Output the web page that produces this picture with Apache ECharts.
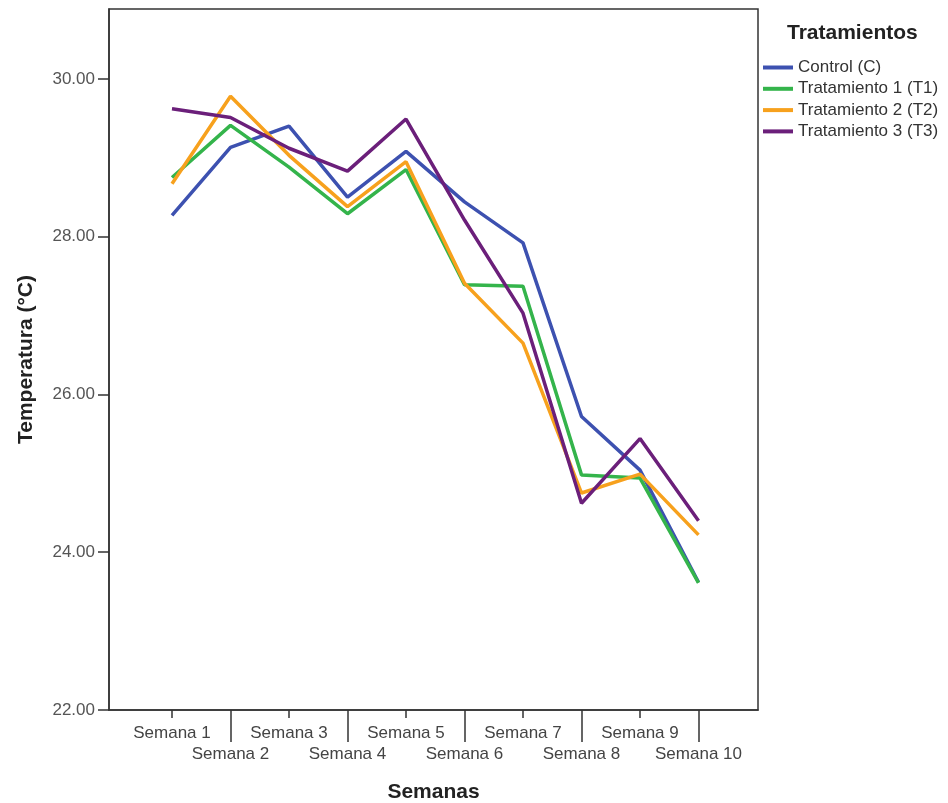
<!DOCTYPE html>
<html>
<head>
<meta charset="utf-8">
<script src="https://cdn.jsdelivr.net/npm/echarts@6/dist/echarts.min.js"></script>
<style>
html,body{margin:0;padding:0;background:#fff;}
#chart{width:948px;height:803px;}
</style>
</head>
<body>
<div id="chart"></div>
<script>
const categories = ['Semana 1','Semana 2','Semana 3','Semana 4','Semana 5','Semana 6','Semana 7','Semana 8','Semana 9','Semana 10'];
const seriesNames = ['Control (C)','Tratamiento 1 (T1)','Tratamiento 2 (T2)','Tratamiento 3 (T3)'];
const control = [28.27, 29.13, 29.40, 28.50, 29.08, 28.44, 27.92, 25.72, 25.04, 23.62];
const t1      = [28.75, 29.41, 28.88, 28.29, 28.85, 27.39, 27.37, 24.98, 24.94, 23.61];
const t2      = [28.67, 29.78, 29.03, 28.38, 28.95, 27.41, 26.65, 24.75, 24.99, 24.22];
const t3      = [29.62, 29.51, 29.12, 28.83, 29.49, 28.21, 27.03, 24.62, 25.44, 24.40];
const yTicks = [22, 24, 26, 28, 30];
const colors = ['#3D51B0', '#34B44B', '#F7A11D', '#6B1F7A'];

const allValues = [control, t1, t2, t3];
const oddPos = [1, 3, 5, 7, 9];
const evenPos = [2, 4, 6, 8, 10];
const labelFont = 'Liberation Sans, Arial, sans-serif';

const xCommon = {
  type: 'value', min: -0.077, max: 11.017, gridIndex: 0, position: 'bottom',
  axisLine: {onZero: false},
  splitLine: {show: false}
};

const chart = echarts.init(document.getElementById('chart'), null, {renderer: 'canvas'});
chart.setOption({
  animation: false,
  backgroundColor: '#fff',
  title: {
    text: 'Tratamientos', left: 782, top: 18,
    textStyle: {fontFamily: labelFont, fontWeight: 'bold', fontSize: 21, color: '#222'}
  },
  legend: {
    orient: 'vertical', left: 758, top: 54,
    itemWidth: 30, itemHeight: 4, itemGap: 4.3, icon: 'rect',
    textStyle: {fontFamily: labelFont, fontSize: 17, color: '#333', lineHeight: 17},
    data: seriesNames
  },
  grid: {
    left: 109, right: 190, top: 9, bottom: 93,
    outerBoundsMode: 'none', containLabel: false,
    show: true, borderColor: '#333', borderWidth: 1.5, backgroundColor: '#fff'
  },
  xAxis: [
    Object.assign({}, xCommon, {
      name: 'Semanas', nameLocation: 'middle', nameGap: 72,
      nameTextStyle: {fontFamily: labelFont, fontWeight: 'bold', fontSize: 21, color: '#222'},
      axisLine: {show: true, onZero: false, lineStyle: {color: '#333', width: 1.5}},
      axisTick: {show: true, customValues: oddPos, length: 8, lineStyle: {color: '#333', width: 1.5}},
      axisLabel: {
        customValues: oddPos, margin: 15,
        fontFamily: labelFont, fontSize: 17, color: '#444',
        formatter: v => categories[Math.round(v) - 1]
      }
    }),
    Object.assign({}, xCommon, {
      axisLine: {show: false, onZero: false},
      axisTick: {show: true, customValues: evenPos, length: 32, lineStyle: {color: '#333', width: 1.5}},
      axisLabel: {
        customValues: evenPos, margin: 36,
        fontFamily: labelFont, fontSize: 17, color: '#444',
        formatter: v => categories[Math.round(v) - 1]
      }
    })
  ],
  yAxis: {
    type: 'value', min: 22, max: 30.885,
    name: 'Temperatura (°C)', nameLocation: 'middle', nameGap: 72,
    nameTextStyle: {fontFamily: labelFont, fontWeight: 'bold', fontSize: 21, color: '#222'},
    axisLine: {show: true, onZero: false, lineStyle: {color: '#333', width: 1.5}},
    axisTick: {show: true, customValues: yTicks, length: 11, lineStyle: {color: '#333', width: 1.5}},
    axisLabel: {
      customValues: yTicks, margin: 14,
      fontFamily: labelFont, fontSize: 17, color: '#555',
      formatter: v => v.toFixed(2)
    },
    splitLine: {show: false}
  },
  series: allValues.map((vals, s) => ({
    name: seriesNames[s],
    type: 'line',
    xAxisIndex: 0,
    symbol: 'none',
    color: colors[s],
    lineStyle: {width: 3.5, color: colors[s]},
    data: vals.map((v, i) => [i + 1, v])
  }))
});
</script>
</body>
</html>
